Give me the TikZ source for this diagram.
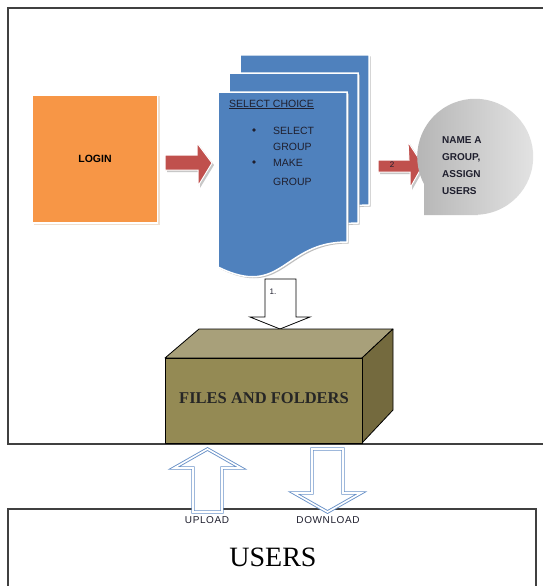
\documentclass[tikz,border=0pt]{standalone}
\usepackage{fontspec}
\setmainfont{Liberation Serif}
\newfontfamily\arialf{Liberation Sans}
\definecolor{loginorange}{HTML}{F79646}
\definecolor{arrowred}{HTML}{C0504D}
\definecolor{docblue}{HTML}{4F81BD}
\definecolor{boxfront}{HTML}{948A54}
\definecolor{boxtop}{HTML}{A8A07A}
\definecolor{boxside}{HTML}{746A3E}
\definecolor{frameline}{HTML}{404040}
\definecolor{hollowblue}{HTML}{6A92C8}
\definecolor{inktext}{HTML}{1F1F2E}
\tikzset{
  frame/.style={draw=frameline, line width=1.3pt},
  loginbox/.style={fill=loginorange, draw=white, line width=1.5pt,
    minimum width=125pt, minimum height=128pt, inner sep=0pt},
  softshadow/.style={fill=black!22},
  redarrow/.style={fill=arrowred, draw=white, line width=1pt, line join=miter},
  docpage/.style={fill=docblue, draw=white, line width=1.5pt},
  doctext/.style={anchor=base west, inner sep=0pt, text=inktext,
    font=\arialf\fontsize{10.5}{12}\selectfont},
  hollowdown/.style={fill=white, draw=black, line width=0.8pt},
  hollowblue/.style={fill=white, draw=hollowblue, line width=0.9pt,
    double=white, double distance=1.6pt},
  cubeedge/.style={draw=black, line width=0.8pt, line join=round},
  smalllabel/.style={font=\arialf\fontsize{10}{12}\selectfont, text=inktext},
}
\newcommand{\pageshape}{(0,0) -- (129,0) -- (129,150)
  .. controls (64.5,150) and (64.5,207) .. (0,175) -- cycle}
\begin{document}
\begin{tikzpicture}[x=1pt, y=-1pt]
\useasboundingbox (0,0) rectangle (542,586);
\fill[white] (0,0) rectangle (542,586);

% outer frames
\draw[frame] (560,8) -- (8,8) -- (8,444) -- (560,444);
\draw[frame] (8,600) -- (8,509) -- (536,509) -- (536,600);

% login square
\fill[fill=brown!25] (34,96) rectangle (160,225);
\node[loginbox] (login) at (95,159)
  {\arialf\bfseries\fontsize{10.5}{12}\selectfont LOGIN};

% arrow login -> choices
\fill[softshadow] (167,157) -- (199,157) -- (199,145) -- (214,165) -- (200,188) -- (200,172) -- (167,172) -- cycle;
\draw[redarrow] (165,155) -- (197,155) -- (197,143) -- (212,163) -- (198,186) -- (198,170) -- (165,170) -- cycle;

% stacked document pages
\foreach \dx/\dy in {240/55, 229/73, 218/92}{
  \begin{scope}[shift={(\dx+1.5,\dy+1.5)}]
    \fill[black!25] \pageshape;
  \end{scope}
  \begin{scope}[shift={(\dx,\dy)}]
    \draw[docpage] \pageshape;
  \end{scope}
}
\node[doctext] (choicetitle) at (229,107) {\underline{SELECT CHOICE}};
\node[doctext] (item1a) at (273,134) {SELECT};
\node[doctext] (item1b) at (273,150) {GROUP};
\node[doctext] (item2a) at (273,166) {MAKE};
\node[doctext] (item2b) at (273,185) {GROUP};
\fill[inktext] (254,130) circle (1.8);
\fill[inktext] (254,162) circle (1.8);

% arrow choices -> group naming
\fill[softshadow] (380,162) -- (411,162) -- (410,144) -- (425,167) -- (412,190) -- (412,174) -- (380,174) -- cycle;
\draw[redarrow] (378,160) -- (409,160) -- (408,142) -- (423,165) -- (410,188) -- (410,172) -- (378,172) -- cycle;
\node[font=\arialf\fontsize{8}{9}\selectfont, text=inktext] (two) at (392,165) {2};

% group naming (tape-like shape)
\shade[left color=black!30, right color=black!10]
  (478,215) -- (424,215) -- (424,184) arc[start angle=152, end angle=450, radius=58] -- cycle;
\node[anchor=west, align=left, inner sep=0pt, text=inktext,
  font=\arialf\bfseries\fontsize{10}{17}\selectfont] (groupnaming) at (442,166)
  {NAME A\\GROUP,\\ASSIGN\\USERS};

% down arrow to storage
\draw[hollowdown] (265,279) -- (296,279) -- (296,317) -- (310,317) -- (280,329)
  -- (250,317) -- (265,317) -- cycle;
\node[font=\arialf\fontsize{8}{9}\selectfont, text=inktext] (one) at (273,292) {1.};

% storage box
\draw[cubeedge, fill=boxtop] (165,358) -- (199,329) -- (393,329) -- (362,358) -- cycle;
\draw[cubeedge, fill=boxside] (362,358) -- (393,329) -- (393,410) -- (362,443) -- cycle;
\draw[cubeedge, fill=boxfront] (165,358) rectangle (362,443);
\node[font=\bfseries\fontsize{16.5}{18}\selectfont, text=black!85] (files) at (264,398)
  {FILES AND FOLDERS};

% upload / download arrows
\draw[hollowblue] (193,512) -- (193,468) -- (174,468) -- (207.5,449) -- (241,468)
  -- (222,468) -- (222,512) -- cycle;
\draw[hollowblue] (312,449) -- (343,449) -- (343,493) -- (361,493) -- (327.5,512)
  -- (294,493) -- (312,493) -- cycle;
\node[smalllabel] (upload) at (207,520) {\addfontfeature{LetterSpace=6}UPLOAD};
\node[smalllabel] (download) at (328,520) {\addfontfeature{LetterSpace=6}DOWNLOAD};

% users
\node[font=\fontsize{28}{30}\selectfont, text=black] (users) at (273,557) {USERS};
\end{tikzpicture}
\end{document}
